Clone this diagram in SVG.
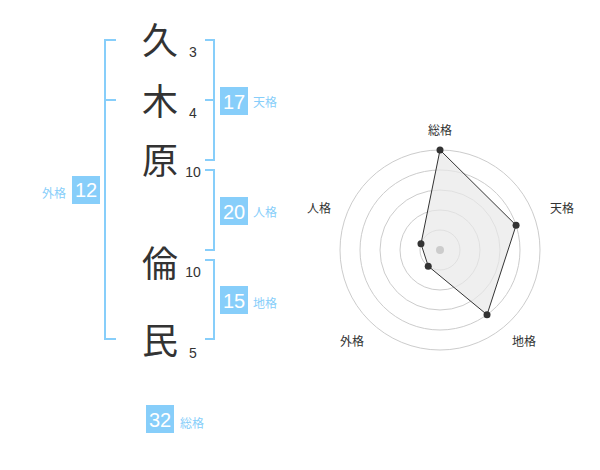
<svg xmlns="http://www.w3.org/2000/svg" width="600" height="470" viewBox="0 0 600 470">
<style>
.k{font-family:"Noto Sans CJK JP","Noto Sans CJK SC",sans-serif;font-size:36px;fill:#333;text-anchor:middle}
.n{font-family:"Liberation Sans",Arial,sans-serif;font-size:14px;fill:#333;text-anchor:middle}
.bx{fill:#87cefa}
.bn{font-family:"Liberation Sans",Arial,sans-serif;font-size:20px;fill:#fff;text-anchor:middle}
.lb{font-family:"Noto Sans CJK JP","Noto Sans CJK SC",sans-serif;font-size:12px;fill:#87cefa}
.br{fill:none;stroke:#87cefa;stroke-width:2}
.ring{fill:none;stroke:#ccc;stroke-width:1}
.rl{font-family:"Noto Sans CJK JP","Noto Sans CJK SC",sans-serif;font-size:12px;fill:#333;text-anchor:middle}
.dot{fill:#333}
</style>
<rect width="600" height="470" fill="#fff"/>
<g id="connectors">
<path class="br" d="M116,40 H105 V339 H116 M105,100 H116"/>
<path class="br" d="M205,40 H214 V160 H205 M205,100 H214"/>
<path class="br" d="M205,170 H214 V250 H205"/>
<path class="br" d="M205,260 H214 V339 H205"/>
</g>
<g id="char1"><text class="k" x="160" y="54">久</text><text class="n" x="193" y="57">3</text></g>
<g id="char2"><text class="k" x="160" y="115">木</text><text class="n" x="193" y="118">4</text></g>
<g id="char3"><text class="k" x="160" y="174">原</text><text class="n" x="193" y="177">10</text></g>
<g id="char4"><text class="k" x="160" y="277">倫</text><text class="n" x="193" y="277">10</text></g>
<g id="char5"><text class="k" x="160" y="354">民</text><text class="n" x="193" y="358">5</text></g>
<g id="gaikaku"><rect class="bx" x="72" y="176" width="28" height="28"/><text class="bn" x="86" y="197">12</text><text class="lb" x="66" y="198" text-anchor="end">外格</text></g>
<g id="tenkaku"><rect class="bx" x="220" y="87" width="28" height="28"/><text class="bn" x="234" y="108.5">17</text><text class="lb" x="253" y="107">天格</text></g>
<g id="jinkaku"><rect class="bx" x="220" y="197" width="28" height="28"/><text class="bn" x="234" y="218.5">20</text><text class="lb" x="253" y="217">人格</text></g>
<g id="chikaku"><rect class="bx" x="220" y="286" width="28" height="28"/><text class="bn" x="234" y="307.5">15</text><text class="lb" x="253" y="308">地格</text></g>
<g id="soukaku"><rect class="bx" x="146" y="405" width="28" height="28"/><text class="bn" x="160" y="426.5">32</text><text class="lb" x="180" y="428">総格</text></g>
<g id="radar">
<circle class="ring" cx="440" cy="250" r="20"/>
<circle class="ring" cx="440" cy="250" r="40"/>
<circle class="ring" cx="440" cy="250" r="60"/>
<circle class="ring" cx="440" cy="250" r="80"/>
<circle class="ring" cx="440" cy="250" r="100"/>
<polygon points="440,150 516.08,225.28 487.02,314.72 428.24,266.18 420.98,243.82" fill="#e8e8e8" fill-opacity="0.7" stroke="#333" stroke-width="1"/>
<circle cx="440" cy="250" r="4" fill="#ccc"/>
<circle class="dot" cx="440" cy="150" r="3.5"/>
<circle class="dot" cx="516.08" cy="225.28" r="3.5"/>
<circle class="dot" cx="487.02" cy="314.72" r="3.5"/>
<circle class="dot" cx="428.24" cy="266.18" r="3.5"/>
<circle class="dot" cx="420.98" cy="243.82" r="3.5"/>
<text class="rl" x="440" y="135">総格</text>
<text class="rl" x="562" y="213">天格</text>
<text class="rl" x="524" y="346">地格</text>
<text class="rl" x="352" y="346">外格</text>
<text class="rl" x="319" y="213">人格</text>
</g>
</svg>
